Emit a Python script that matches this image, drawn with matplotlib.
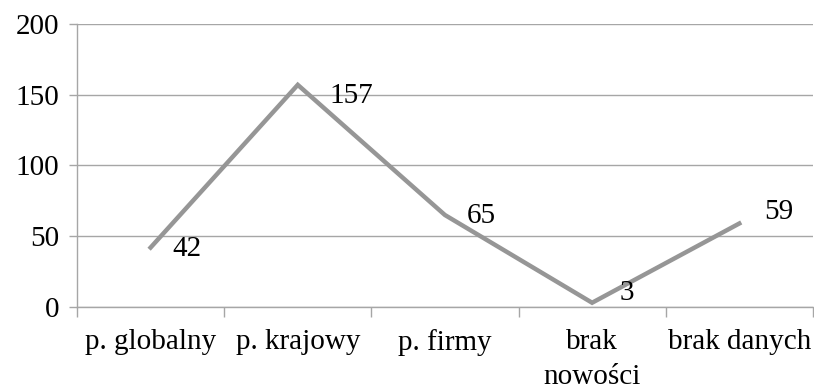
import matplotlib.pyplot as plt
import numpy as np

# chart data
categories = ['p. globalny', 'p. krajowy', 'p. firmy', 'brak\nnowości', 'brak danych']
values = [42, 157, 65, 3, 59]

# nudge of each value label (points)
label_dx = [16, 23, 16, 20, 18]
label_dy = [-1, -8, -1, 7, 8]

plt.rcParams['font.family'] = ['Liberation Serif', 'DejaVu Serif']
FS = 21

fig = plt.figure(figsize=(8.14, 3.86), dpi=100)
ax = fig.add_axes([0.0946, 0.2047, 0.904, 0.7331])

x = np.arange(len(categories))
ax.plot(x, values, color='#969696', linewidth=3.2, solid_joinstyle='miter', zorder=3)

for xi, v, dx, dy in zip(x, values, label_dx, label_dy):
    ax.annotate(str(v), (xi, v), xytext=(dx, dy), textcoords='offset points',
                ha='left', va='center', fontsize=FS, color='black', zorder=4)

ax.set_xlim(-0.5, len(categories) - 0.5)
ax.set_ylim(0, 200)
ax.set_yticks([0, 50, 100, 150, 200])
ax.set_xticks(x)
ax.set_xticklabels(categories, fontsize=FS, linespacing=1.45)
ax.set_xticks(np.arange(-0.5, len(categories)), minor=True)
ax.tick_params(axis='x', which='major', length=0, pad=16)
ax.tick_params(axis='x', which='minor', length=7, color='#a6a6a6', width=1)
ax.tick_params(axis='y', length=6, color='#a6a6a6', width=1, labelsize=FS, pad=7)

ax.grid(axis='y', color='#a6a6a6', linewidth=1)
ax.set_axisbelow(True)
for s in ['top', 'right']:
    ax.spines[s].set_visible(False)
for s in ['left', 'bottom']:
    ax.spines[s].set_color('#a6a6a6')
    ax.spines[s].set_linewidth(1)

fig.savefig('out.png', dpi=100)
